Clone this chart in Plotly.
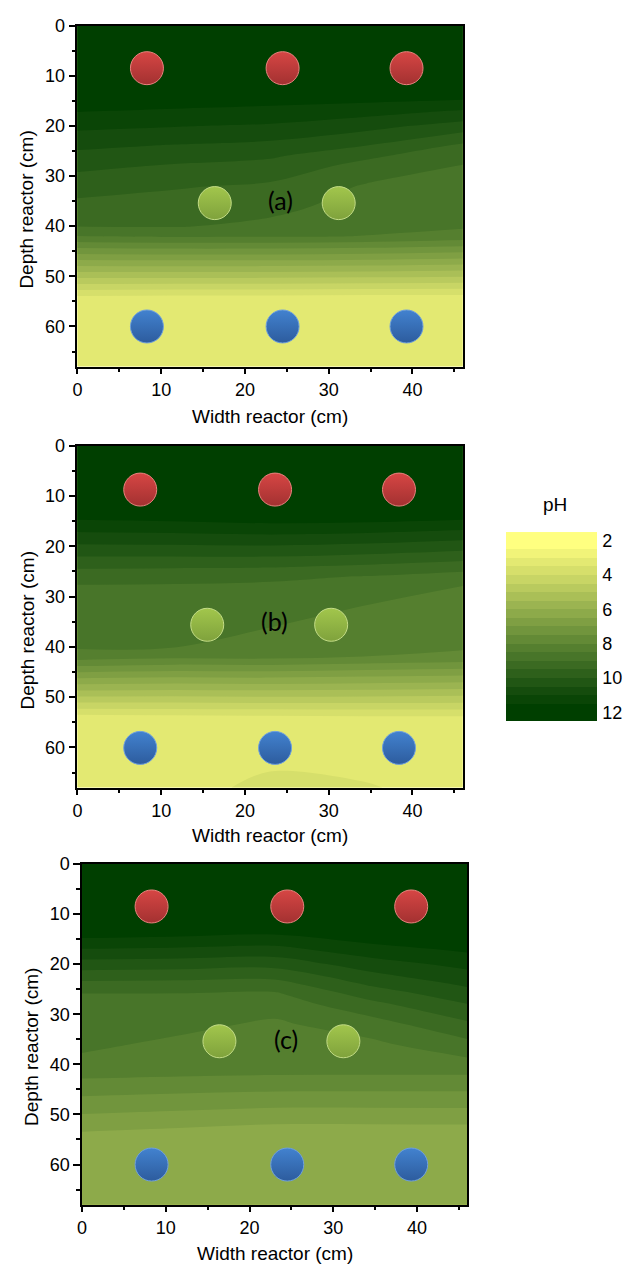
import plotly.graph_objects as go

W, H = 630, 1273

# ---------------- data ----------------
width_cm = [0, 11.5, 23, 34.5, 46]
depth_cm = [0, 8, 14, 17, 20, 24, 26, 28, 32, 36, 40, 42, 54, 60, 68]

# pH read at (depth row, width column)
ph_a = [
    [12.20, 12.20, 12.20, 12.20, 12.20],
    [12.20, 12.20, 12.20, 12.20, 12.20],
    [11.93, 11.86, 11.78, 11.75, 11.70],
    [11.53, 11.44, 11.36, 11.21, 10.96],
    [11.12, 11.03, 10.94, 10.68, 10.29],
    [10.60, 10.46, 10.35, 9.99, 9.39],
    [10.36, 10.20, 10.07, 9.60, 9.15],
    [10.12, 9.95, 9.82, 9.33, 8.98],
    [9.72, 9.55, 9.42, 8.95, 8.84],
    [9.36, 9.28, 9.18, 8.77, 8.70],
    [9.02, 9.04, 8.86, 8.59, 8.56],
    [8.49, 8.56, 8.55, 8.49, 8.32],
    [3.46, 3.42, 3.42, 3.38, 3.38],
    [3.30, 3.30, 3.30, 3.30, 3.30],
    [3.30, 3.30, 3.30, 3.30, 3.30],
]
ph_b = [
    [12.20, 12.20, 12.20, 12.20, 12.20],
    [12.20, 12.20, 12.20, 12.20, 12.20],
    [11.64, 11.71, 11.82, 11.78, 11.67],
    [11.03, 11.07, 11.14, 11.08, 10.94],
    [10.41, 10.43, 10.46, 10.37, 10.21],
    [9.59, 9.57, 9.55, 9.42, 9.24],
    [9.18, 9.15, 9.09, 8.98, 8.78],
    [8.96, 8.95, 8.92, 8.81, 8.48],
    [8.82, 8.81, 8.71, 8.48, 8.34],
    [8.69, 8.67, 8.51, 8.29, 8.20],
    [8.57, 8.52, 8.19, 8.10, 8.06],
    [8.25, 8.11, 8.13, 7.99, 7.88],
    [3.30, 3.34, 3.38, 3.42, 3.42],
    [3.30, 3.30, 3.35, 3.30, 3.30],
    [3.30, 3.35, 3.60, 3.53, 3.35],
]
ph_c = [
    [12.20, 12.20, 12.20, 12.20, 12.20],
    [12.20, 12.20, 12.20, 12.20, 12.20],
    [11.69, 11.61, 11.52, 11.84, 12.04],
    [10.99, 10.93, 10.85, 11.31, 11.60],
    [10.28, 10.24, 10.18, 10.77, 11.16],
    [9.35, 9.32, 9.29, 10.07, 10.58],
    [8.98, 8.97, 8.92, 9.71, 10.29],
    [8.90, 8.85, 8.71, 9.36, 9.99],
    [8.75, 8.63, 8.42, 8.77, 9.41],
    [8.60, 8.40, 8.26, 8.39, 8.85],
    [8.37, 8.18, 8.10, 8.14, 8.32],
    [8.12, 8.06, 8.02, 8.01, 8.01],
    [6.42, 6.31, 6.19, 6.19, 6.20],
    [6.30, 6.25, 6.20, 6.20, 6.20],
    [6.30, 6.25, 6.20, 6.20, 6.20],
]

# contour levels (pH)
ph_levels = [2.5, 3.0, 3.5, 4.0, 4.5, 5.0, 5.5, 6.0, 6.5, 7.0,
             7.5, 8.0, 8.5, 9.0, 9.5, 10.0, 10.5, 11.0, 11.5]
band_edges = [1.5] + ph_levels + [12.5]
band_index = list(range(20))
band_colors = [
    "#FFFF80", "#F1F479", "#E3E972", "#D6DF6B", "#C8D565", "#B9CA5E",
    "#AABF57", "#9BB451", "#8DAA4A", "#7F9F43", "#71953D", "#638A36",
    "#557F2F", "#487529", "#3B6A22", "#2E601B", "#215614", "#154C0D",
    "#0A4506", "#003F00",
]
colorbar_ticks = [2, 4, 6, 8, 10, 12]

# electrodes (width cm, depth cm)
red_a_x, red_a_y = [8.3, 24.5, 39.3], [8.5, 8.5, 8.5]
green_a_x, green_a_y = [16.4, 31.2], [35.4, 35.4]
blue_a_x, blue_a_y = [8.3, 24.5, 39.3], [60.0, 60.0, 60.0]

red_b_x, red_b_y = [7.5, 23.6, 38.4], [8.7, 8.7, 8.7]
green_b_x, green_b_y = [15.5, 30.3], [35.6, 35.6]
blue_b_x, blue_b_y = [7.5, 23.6, 38.4], [60.1, 60.1, 60.1]

red_c_x, red_c_y = [8.3, 24.5, 39.3], [8.5, 8.5, 8.5]
green_c_x, green_c_y = [16.4, 31.2], [35.4, 35.4]
blue_c_x, blue_c_y = [8.3, 24.5, 39.3], [60.0, 60.0, 60.0]

panel_labels = ["(a)", "(b)", "(c)"]
label_x = [24.3, 23.5, 24.3]
label_y = [34.8, 34.9, 35.0]

# ---------------- figure ----------------
def pxx(v):
    return v / W


def pxy(v):
    return 1 - v / H


AXIS_FONT = dict(family="Liberation Sans, Arial, sans-serif", size=18, color="black")
TITLE_FONT = dict(family="Liberation Sans, Arial, sans-serif", size=19, color="black")

colorscale = [[i / 19, c] for i, c in enumerate(band_colors)]

panels = [
    dict(ph=ph_a, red=(red_a_x, red_a_y), green=(green_a_x, green_a_y), blue=(blue_a_x, blue_a_y),
         xdom=(73, 461.3), ydom=(15.7, 360), xt=(267, 410), yt=(22, 201.7)),
    dict(ph=ph_b, red=(red_b_x, red_b_y), green=(green_b_x, green_b_y), blue=(blue_b_x, blue_b_y),
         xdom=(73, 461.3), ydom=(440, 785), xt=(267, 833), yt=(22.5, 626)),
    dict(ph=ph_c, red=(red_c_x, red_c_y), green=(green_c_x, green_c_y), blue=(blue_c_x, blue_c_y),
         xdom=(77.7, 466), ydom=(862, 1206), xt=(272, 1255), yt=(26, 1047)),
]

electrode_styles = {
    "red": dict(color="#D64644", gradient=dict(type="vertical", color="#A33131"),
                line=dict(color="#E8837E", width=1)),
    "green": dict(color="#A2C64C", gradient=dict(type="vertical", color="#7FA23C"),
                  line=dict(color="#C3DC86", width=1)),
    "blue": dict(color="#4282CF", gradient=dict(type="vertical", color="#2D5C9E"),
                 line=dict(color="#6FA0DE", width=1)),
}

fig = go.Figure()
layout = dict(width=W, height=H, margin=dict(l=0, r=0, t=0, b=0),
              paper_bgcolor="white", plot_bgcolor="white", showlegend=False)
annotations = []

for k, p in enumerate(panels):
    sfx = "" if k == 0 else str(k + 1)
    xa, ya = "x" + sfx, "y" + sfx
    fig.add_trace(go.Contour(
        x=width_cm, y=depth_cm, z=p["ph"], xaxis=xa, yaxis=ya,
        contours=dict(start=ph_levels[0], end=ph_levels[-1],
                      size=ph_levels[1] - ph_levels[0],
                      coloring="fill", showlines=False),
        line=dict(width=0), colorscale=colorscale, showscale=False,
        hoverinfo="skip"))
    for name in ["red", "green", "blue"]:
        ex, ey = p[name]
        st = electrode_styles[name]
        fig.add_trace(go.Scatter(
            x=ex, y=ey, xaxis=xa, yaxis=ya, mode="markers",
            marker=dict(size=33, symbol="circle", **st), hoverinfo="skip"))
    layout["xaxis" + sfx] = dict(
        domain=[pxx(p["xdom"][0]), pxx(p["xdom"][1])], anchor=ya,
        range=[0, 46], tick0=0, dtick=10, ticks="outside", ticklen=6,
        tickwidth=1.5, tickcolor="black", showline=True, linecolor="black",
        linewidth=1.5, mirror=True, showgrid=False, zeroline=False,
        tickfont=AXIS_FONT,
        minor=dict(ticks="outside", ticklen=4, tickwidth=1.5, tickcolor="black",
                   dtick=5, tick0=0, showgrid=False))
    layout["yaxis" + sfx] = dict(
        domain=[pxy(p["ydom"][1]), pxy(p["ydom"][0])], anchor=xa,
        range=[68, 0], tick0=0, dtick=10, ticks="outside", ticklen=7,
        tickwidth=1.5, tickcolor="black", showline=True, linecolor="black",
        linewidth=1.5, mirror=True, showgrid=False, zeroline=False,
        tickfont=AXIS_FONT,
        minor=dict(ticks="outside", ticklen=4, tickwidth=1.5, tickcolor="black",
                   dtick=5, tick0=0, showgrid=False))
    annotations.append(dict(
        text=panel_labels[k], x=label_x[k], y=label_y[k], xref=xa, yref=ya,
        showarrow=False, font=dict(family="Lato, Carlito, sans-serif", size=25, color="black")))
    annotations.append(dict(
        text="Width reactor (cm)", x=pxx(p["xt"][0]), y=pxy(p["xt"][1]),
        xref="paper", yref="paper", showarrow=False, font=TITLE_FONT,
        xanchor="center", yanchor="middle"))
    annotations.append(dict(
        text="Depth reactor (cm)", x=pxx(p["yt"][0]), y=pxy(p["yt"][1]),
        xref="paper", yref="paper", showarrow=False, font=TITLE_FONT, textangle=-90,
        xanchor="center", yanchor="middle"))

# colour scale legend (pH bands)
fig.add_trace(go.Heatmap(
    x=[0, 1], y=band_edges, z=[[i] for i in band_index], xaxis="x4", yaxis="y4",
    colorscale=colorscale, zmin=0, zmax=19, showscale=False, hoverinfo="skip"))
layout["xaxis4"] = dict(domain=[pxx(505), pxx(597)], anchor="y4", range=[0, 1],
                        visible=False, fixedrange=True)
layout["yaxis4"] = dict(domain=[pxy(717.7), pxy(527)], anchor="x4", side="right",
                        range=[band_edges[-1], band_edges[0]], tickmode="array",
                        tickvals=colorbar_ticks, ticktext=[str(t) for t in colorbar_ticks],
                        ticks="", showline=False, showgrid=False, zeroline=False,
                        tickfont=AXIS_FONT, ticklabelstandoff=4)
annotations.append(dict(text="pH", x=pxx(554), y=pxy(499), xref="paper", yref="paper",
                        showarrow=False, font=TITLE_FONT, xanchor="center", yanchor="middle"))

layout["annotations"] = annotations
fig.update_layout(**layout)
fig.write_html("out.html")
